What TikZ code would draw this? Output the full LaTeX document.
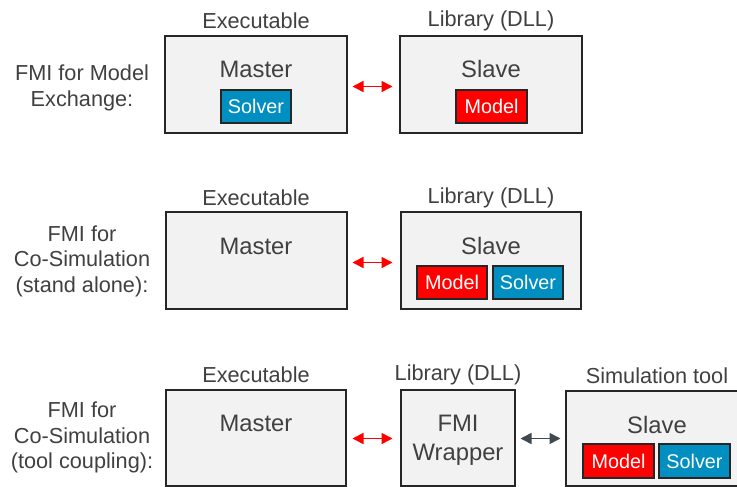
\documentclass[tikz,border=0pt]{standalone}
\usepackage{fontspec}
\setmainfont{Liberation Sans}
\usetikzlibrary{arrows.meta}
\definecolor{txt}{HTML}{404040}
\definecolor{boxfill}{HTML}{F2F2F2}
\definecolor{solverblue}{HTML}{008FC0}
\definecolor{modelred}{HTML}{FF0000}
\definecolor{linkgray}{HTML}{404850}
\begin{document}
\begin{tikzpicture}[x=1pt,y=-1pt,
  outer/.style={draw=black!85,fill=boxfill,line width=1.3pt},
  caption/.style={text=txt,font=\fontsize{21.7}{24}\selectfont,inner sep=0pt},
  title/.style={text=txt,font=\fontsize{23.8}{29}\selectfont,inner sep=0pt,align=center},
  side/.style={text=txt,font=\fontsize{21.7}{25.5}\selectfont,inner sep=0pt,align=center},
  inbox/.style={draw=black!85,line width=1.2pt,text=white,font=\fontsize{19.8}{22}\selectfont,inner sep=0pt},
  solverbox/.style={inbox,fill=solverblue},
  modelbox/.style={inbox,fill=modelred},
  redlink/.style={draw=red,line width=1.5pt,{Triangle[length=11pt,width=11pt]}-{Triangle[length=11pt,width=11pt]}},
  graylink/.style={draw=linkgray,line width=1.5pt,{Triangle[length=11pt,width=11pt]}-{Triangle[length=11pt,width=11pt]}}
]
\useasboundingbox (0,0) rectangle (737,487);
\clip (0,0) rectangle (737,487);

% ---------- Row 1 ----------
\node[side] (l1) at (82,88) {FMI for Model\\Exchange:};
\node[caption] (c1a) at (256,21) {Executable};
\node[caption] (c1b) at (491,21) {Library (DLL)};
\path[outer] (165,36) rectangle (347,133);
\path[outer] (400,36) rectangle (582,133);
\node[title] (m1) at (256,69) {Master};
\node[title] (s1) at (491,69) {Slave};
\node[solverbox,minimum width=70pt,minimum height=33pt] (sv1) at (256,106.5) {Solver};
\node[modelbox,minimum width=71pt,minimum height=33pt] (md1) at (491.5,106.5) {Model};
\coordinate (a1l) at (352.5,86.5);
\coordinate (a1r) at (392.5,86.5);
\draw[redlink] (a1l) -- (a1r);

% ---------- Row 2 ----------
\node[side] (l2) at (82,261) {FMI for\\Co-Simulation\\(stand alone):};
\node[caption] (c2a) at (256,198) {Executable};
\node[caption] (c2b) at (491,198) {Library (DLL)};
\path[outer] (166,212) rectangle (347,309);
\path[outer] (401,212) rectangle (581,309);
\node[title] (m2) at (256,246) {Master};
\node[title] (s2) at (491,246) {Slave};
\node[modelbox,minimum width=70pt,minimum height=33pt] (md2) at (452,282.5) {Model};
\node[solverbox,minimum width=70pt,minimum height=33pt] (sv2) at (528,282.5) {Solver};
\coordinate (a2l) at (352.5,262.5);
\coordinate (a2r) at (392.5,262.5);
\draw[redlink] (a2l) -- (a2r);

% ---------- Row 3 ----------
\node[side] (l3) at (82,437.5) {FMI for\\Co-Simulation\\(tool coupling):};
\node[caption] (c3a) at (256,375) {Executable};
\node[caption] (c3b) at (458,375) {Library (DLL)};
\node[caption] (c3c) at (657,376) {Simulation tool};
\path[outer] (166,390) rectangle (346,486);
\path[outer] (401,390) rectangle (515,486);
\path[outer] (566,391) rectangle (760,486);
\node[title] (m3) at (256,423) {Master};
\node[title] (w3) at (458,440) {FMI\\Wrapper};
\node[title] (s3) at (657,425) {Slave};
\node[modelbox,minimum width=71pt,minimum height=34pt] (md3) at (618.5,461) {Model};
\node[solverbox,minimum width=71pt,minimum height=34pt] (sv3) at (694.5,461) {Solver};
\coordinate (a3l) at (352.5,438.5);
\coordinate (a3r) at (392.5,438.5);
\draw[redlink] (a3l) -- (a3r);
\coordinate (g3l) at (520.5,438.5);
\coordinate (g3r) at (560.5,438.5);
\draw[graylink] (g3l) -- (g3r);
\end{tikzpicture}
\end{document}
